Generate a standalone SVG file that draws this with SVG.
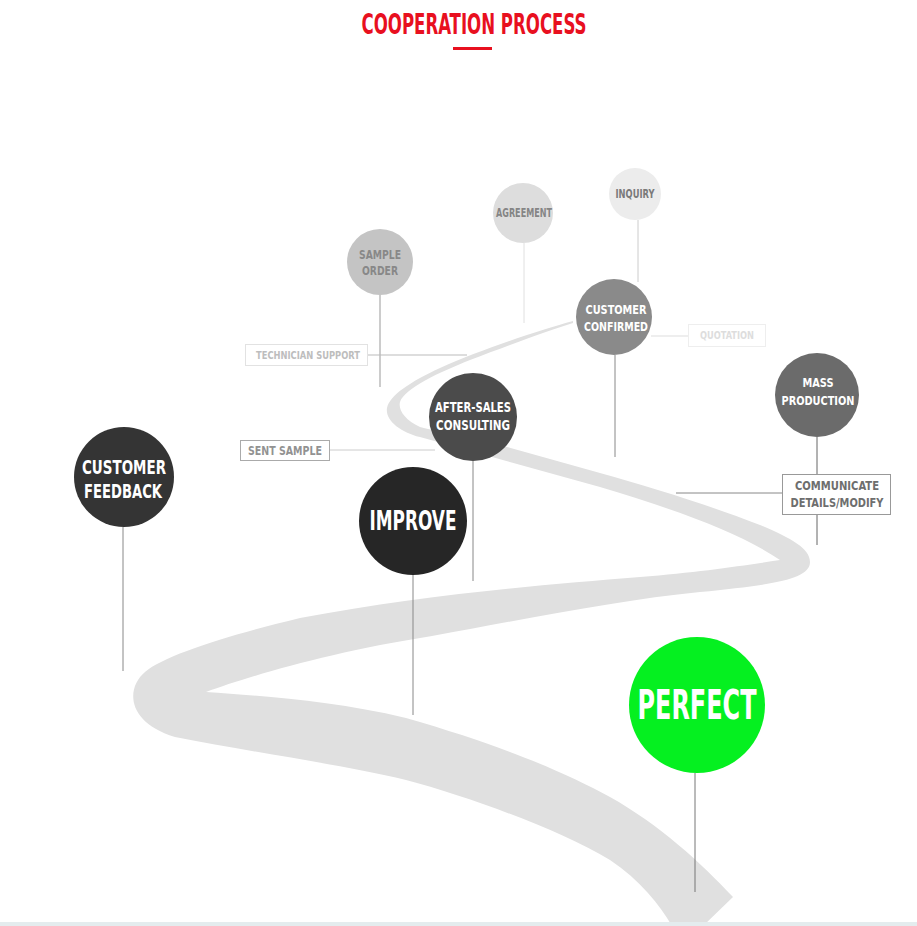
<svg xmlns="http://www.w3.org/2000/svg" width="917" height="926" viewBox="0 0 917 926">
<style>
text{font-family:"Liberation Sans Narrow","DejaVu Sans Condensed","Liberation Sans",sans-serif;font-weight:bold;text-anchor:middle}
.w{fill:#ffffff}
.ln{stroke-width:1;fill:none}
.box{fill:#ffffff;stroke-width:1}
</style>
<rect x="0" y="0" width="917" height="926" fill="#ffffff"/>
<g id="title">
<text x="474" y="34" font-size="28" fill="#e8101f" textLength="225" lengthAdjust="spacingAndGlyphs">COOPERATION PROCESS</text>
<rect x="453" y="47" width="39" height="3" fill="#e8101f"/>
</g>
<g id="road">
<path fill="#e0e0e0" d="M 573,321 C 540,330 480,350 440,368 C 410,382 390,395 387,408 C 385,420 400,432 420,437 L 600,487 C 680,511 740,533 780,560 C 740,566 700,572 640,577 C 540,585 420,595 300,618 C 230,635 165,655 145,672 C 126,688 126,722 175,737 C 250,752 340,764 406,780 C 470,797 560,830 610,860 C 640,880 660,905 672,926 L 703,926 L 733,897 C 700,862 660,825 610,797 C 560,770 500,745 406,718 C 330,700 260,696 206,692 C 250,676 330,652 432,636 C 530,618 620,600 700,592 C 770,585 810,580 810,562 C 810,548 790,538 760,525 C 700,502 650,487 600,473 L 507,447 C 470,437 440,432 420,427 C 405,420 398,410 400,402 C 405,388 440,372 470,360 C 510,345 550,330 573,323 Z"/>
</g>
<rect x="0" y="922" width="917" height="4" fill="#e4ecee"/>
<g id="connectors">
<line class="ln" x1="638" y1="220" x2="638" y2="282" stroke="#cccccc"/>
<line class="ln" x1="524" y1="243" x2="524" y2="323" stroke="#e0e0e0"/>
<line class="ln" x1="380" y1="295" x2="380" y2="387" stroke="#999999"/>
<line class="ln" x1="367" y1="355" x2="467" y2="355" stroke="#bbbbbb"/>
<line class="ln" x1="651" y1="336" x2="688" y2="336" stroke="#dddddd"/>
<line class="ln" x1="615" y1="355" x2="615" y2="457" stroke="#888888"/>
<line class="ln" x1="817" y1="437" x2="817" y2="545" stroke="#666666"/>
<line class="ln" x1="676" y1="493" x2="782" y2="493" stroke="#888888"/>
<line class="ln" x1="473" y1="461" x2="473" y2="581" stroke="#888888"/>
<line class="ln" x1="329" y1="450" x2="435" y2="450" stroke="#cccccc"/>
<line class="ln" x1="123" y1="527" x2="123" y2="671" stroke="#888888"/>
<line class="ln" x1="413" y1="575" x2="413" y2="715" stroke="#888888"/>
<line class="ln" x1="695" y1="773" x2="695" y2="892" stroke="#777777"/>
</g>
<g id="technician-support">
<rect class="box" x="245.5" y="344.5" width="122" height="21" stroke="#e2e2e2"/>
<text x="308" y="359" font-size="11" fill="#bdbdbd" textLength="104" lengthAdjust="spacingAndGlyphs">TECHNICIAN SUPPORT</text>
</g>
<g id="quotation">
<rect class="box" x="688.5" y="324.5" width="77" height="22" stroke="#eeeeee"/>
<text x="727" y="339" font-size="11" fill="#dddddd" textLength="54" lengthAdjust="spacingAndGlyphs">QUOTATION</text>
</g>
<g id="sent-sample">
<rect class="box" x="240.5" y="440.5" width="89" height="20" stroke="#aaaaaa"/>
<text x="285" y="455" font-size="13" fill="#929292" textLength="74" lengthAdjust="spacingAndGlyphs">SENT SAMPLE</text>
</g>
<g id="communicate">
<rect class="box" x="782.5" y="474.5" width="108" height="40" stroke="#999999"/>
<text x="837" y="490" font-size="13" fill="#6e6e6e" textLength="84" lengthAdjust="spacingAndGlyphs">COMMUNICATE</text>
<text x="837" y="507" font-size="13" fill="#6e6e6e" textLength="93" lengthAdjust="spacingAndGlyphs">DETAILS/MODIFY</text>
</g>
<g id="inquiry">
<circle cx="635" cy="194" r="26" fill="#ececec"/>
<text x="635" y="198" font-size="12" fill="#7a7a7a" textLength="39" lengthAdjust="spacingAndGlyphs">INQUIRY</text>
</g>
<g id="agreement">
<circle cx="523" cy="213" r="30" fill="#dddddd"/>
<text x="524" y="217" font-size="12" fill="#858585" textLength="56" lengthAdjust="spacingAndGlyphs">AGREEMENT</text>
</g>
<g id="sample-order">
<circle cx="380" cy="262" r="33" fill="#c4c4c4"/>
<text x="380" y="259" font-size="13" fill="#888888" textLength="42" lengthAdjust="spacingAndGlyphs">SAMPLE</text>
<text x="380" y="275" font-size="13" fill="#888888" textLength="36" lengthAdjust="spacingAndGlyphs">ORDER</text>
</g>
<g id="customer-confirmed">
<circle cx="614" cy="317" r="38" fill="#8a8a8a"/>
<text class="w" x="616" y="314" font-size="13" textLength="61" lengthAdjust="spacingAndGlyphs">CUSTOMER</text>
<text class="w" x="616" y="331" font-size="13" textLength="64" lengthAdjust="spacingAndGlyphs">CONFIRMED</text>
</g>
<g id="mass-production">
<circle cx="817" cy="395" r="42" fill="#6b6b6b"/>
<text class="w" x="818" y="387" font-size="13" textLength="31" lengthAdjust="spacingAndGlyphs">MASS</text>
<text class="w" x="818" y="405" font-size="13" textLength="73" lengthAdjust="spacingAndGlyphs">PRODUCTION</text>
</g>
<g id="after-sales">
<circle cx="473" cy="417" r="44" fill="#4b4b4b"/>
<text class="w" x="473" y="412" font-size="14" textLength="76" lengthAdjust="spacingAndGlyphs">AFTER-SALES</text>
<text class="w" x="473" y="430" font-size="14" textLength="74" lengthAdjust="spacingAndGlyphs">CONSULTING</text>
</g>
<g id="customer-feedback">
<circle cx="124" cy="477" r="50" fill="#343434"/>
<text class="w" x="124" y="474" font-size="19" textLength="84" lengthAdjust="spacingAndGlyphs">CUSTOMER</text>
<text class="w" x="123" y="498" font-size="19" textLength="78" lengthAdjust="spacingAndGlyphs">FEEDBACK</text>
</g>
<g id="improve">
<circle cx="413" cy="521" r="54" fill="#262626"/>
<text class="w" x="413" y="530" font-size="26" textLength="87" lengthAdjust="spacingAndGlyphs">IMPROVE</text>
</g>
<g id="perfect">
<circle cx="697" cy="705" r="68" fill="#05f020"/>
<text class="w" x="697" y="719" font-size="40" textLength="119" lengthAdjust="spacingAndGlyphs">PERFECT</text>
</g>
</svg>
